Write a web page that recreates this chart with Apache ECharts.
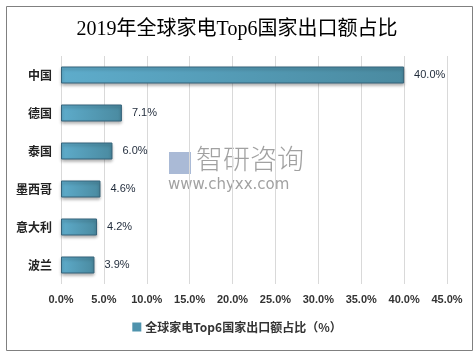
<!DOCTYPE html>
<html>
<head>
<meta charset="utf-8">
<script src="https://cdn.jsdelivr.net/npm/echarts@6/dist/echarts.min.js"></script>
<style>
  html, body { margin: 0; padding: 0; background: #fff; }
  #main { width: 474px; height: 353px; }
</style>
</head>
<body>
<div id="main"></div>
<script>
// 数据
var countries = ["中国", "德国", "泰国", "墨西哥", "意大利", "波兰"];
var shares = [40.0, 7.1, 6.0, 4.6, 4.2, 3.9];
var seriesName = "全球家电Top6国家出口额占比（%）";

var myChart = echarts.init(document.getElementById("main"));

var option = {
  backgroundColor: "#fff",
  animation: false,
  title: {
    text: "2019年全球家电Top6国家出口额占比",
    left: "center",
    top: 15,
    textStyle: {
      fontFamily: "Liberation Serif, Noto Sans CJK SC",
      fontSize: 20,
      fontWeight: "normal",
      color: "#000"
    }
  },
  graphic: [
    {
      type: "rect",
      left: 4, top: 4,
      shape: { width: 466, height: 344 },
      style: { fill: "none", stroke: "#808080", lineWidth: 1 },
      silent: true
    },
    {
      type: "text",
      left: 196, top: 145,
      style: { text: "智研咨询", fontSize: 27, fill: "#8a8a8a", fontFamily: "Noto Sans CJK SC", fontWeight: 300, opacity: 0.8 },
      z: 0, silent: true
    },
    {
      type: "text",
      left: 168, top: 178,
      style: { text: "www.chyxx.com", fontSize: 15, fill: "#8a8a8a", fontFamily: "DejaVu Sans", opacity: 0.8 },
      z: 0, silent: true
    },
    {
      type: "rect",
      left: 169, top: 152,
      shape: { width: 22, height: 22 },
      style: { fill: "#8ea3c8", opacity: 0.75 },
      z: 0, silent: true
    }
  ],
  legend: {
    bottom: 15,
    left: "center",
    itemWidth: 7,
    itemHeight: 7,
    itemGap: 4,
    icon: "rect",
    textStyle: { fontSize: 12, color: "#333", fontWeight: "bold", fontFamily: "Noto Sans CJK SC" },
    data: [{ name: seriesName, itemStyle: { color: "#4f93ad", borderColor: "#4f93ad" } }]
  },
  grid: {
    left: 61,
    right: 27,
    top: 56,
    bottom: 69,
    containLabel: false
  },
  xAxis: {
    type: "value",
    min: 0,
    max: 45,
    interval: 5,
    axisLine: { show: false },
    axisTick: { show: false },
    splitLine: { lineStyle: { color: "#d9d9d9" } },
    axisLabel: {
      formatter: function (v) { return v.toFixed(1) + "%"; },
      fontSize: 11,
      color: "#333",
      fontWeight: "bold",
      margin: 10
    }
  },
  yAxis: {
    type: "category",
    inverse: true,
    data: countries,
    axisLine: { show: false },
    axisTick: { show: false },
    axisLabel: {
      fontSize: 12,
      color: "#222",
      fontWeight: "bold",
      fontFamily: "Noto Sans CJK SC",
      margin: 9
    }
  },
  series: [
    {
      name: seriesName,
      type: "bar",
      barWidth: 17,
      data: shares,
      z: 3,
      itemStyle: {
        color: new echarts.graphic.LinearGradient(0, 0, 1, 0, [
          { offset: 0, color: "#5eaccb" },
          { offset: 1, color: "#4a8aa0" }
        ]),
        borderColor: "#35637a",
        borderWidth: 1,
        shadowColor: "rgba(0,0,0,0.3)",
        shadowBlur: 3,
        shadowOffsetY: 2
      },
      label: {
        show: true,
        position: "right",
        distance: 10,
        formatter: function (p) { return p.value.toFixed(1) + "%"; },
        fontSize: 11,
        color: "#1f2a3a",
        fontWeight: "normal"
      }
    }
  ]
};

myChart.setOption(option);
</script>
</body>
</html>
